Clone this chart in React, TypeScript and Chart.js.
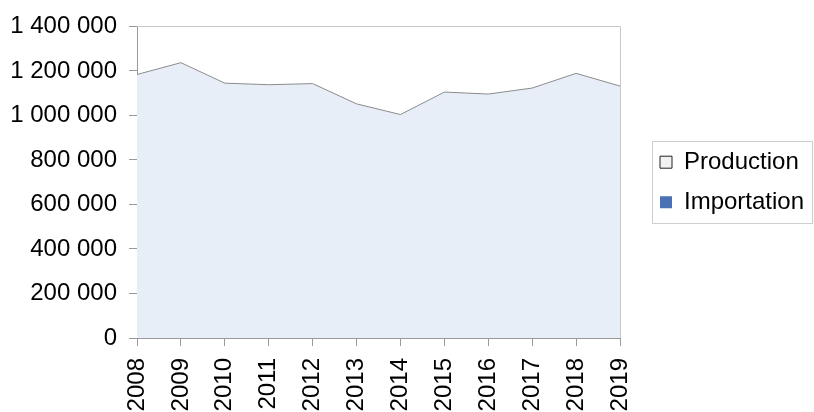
import React, { useEffect, useRef } from "react";
import { Chart, registerables } from "chart.js";

Chart.register(...registerables);

const years = ["2008", "2009", "2010", "2011", "2012", "2013", "2014", "2015", "2016", "2017", "2018", "2019"];
const production = [1184000, 1237000, 1145000, 1138000, 1143000, 1052000, 1004000, 1105000, 1096000, 1123000, 1189000, 1132000];
const importation = [0, 0, 0, 0, 0, 0, 0, 0, 0, 0, 0, 0];
const yTicks = [0, 200000, 400000, 600000, 800000, 1000000, 1200000, 1400000];

const FONT = "'Liberation Sans', Arial, sans-serif";

const fmt = (v: number) => String(v).replace(/\B(?=(\d{3})+(?!\d))/g, " ");

const framePlugin = {
  id: "frame",
  afterDatasetsDraw(chart: any) {
    const { ctx, chartArea } = chart;
    ctx.save();
    ctx.strokeStyle = "#c8c8c8";
    ctx.lineWidth = 1;
    ctx.beginPath();
    ctx.moveTo(chartArea.left, Math.round(chartArea.top) + 0.5);
    ctx.lineTo(Math.round(chartArea.right) + 0.5, Math.round(chartArea.top) + 0.5);
    ctx.lineTo(Math.round(chartArea.right) + 0.5, chartArea.bottom);
    ctx.stroke();
    ctx.restore();
  },
  afterDraw(chart: any) {
    const lg = chart.legend;
    if (!lg || !lg.legendHitBoxes || lg.legendHitBoxes.length === 0) return;
    const boxes = lg.legendHitBoxes;
    const first = boxes[0];
    const last = boxes[boxes.length - 1];
    const { ctx } = chart;
    ctx.save();
    ctx.strokeStyle = "#cfcfcf";
    ctx.lineWidth = 1;
    const x0 = Math.round(lg.left + 8) + 0.5;
    const x1 = Math.round(lg.right - 2) + 0.5;
    const y0 = Math.round(first.top - 9) + 0.5;
    const y1 = Math.round(last.top + last.height + 9) + 0.5;
    ctx.strokeRect(x0, y0, x1 - x0, y1 - y0);
    ctx.restore();
  },
};

export default function App() {
  const ref = useRef<HTMLCanvasElement | null>(null);
  useEffect(() => {
    document.body.style.margin = "0";
    const canvas = ref.current;
    if (!canvas) return;
    const chart = new Chart(canvas, {
      type: "line",
      data: {
        labels: years,
        datasets: [
          {
            label: "Production",
            data: production,
            fill: "origin",
            backgroundColor: "#e8eef8",
            borderColor: "#8c8c8c",
            borderWidth: 1,
            pointRadius: 0,
            tension: 0,
          },
          {
            label: "Importation",
            data: importation,
            fill: "origin",
            backgroundColor: "#4a70b5",
            borderColor: "#4a70b5",
            borderWidth: 0,
            pointRadius: 0,
            tension: 0,
          },
        ],
      },
      options: {
        responsive: false,
        animation: false,
        layout: { padding: { top: 19, left: 0, right: 0, bottom: 0 } },
        plugins: {
          tooltip: { enabled: false },
          legend: {
            position: "right",
            align: "center",
            fullSize: false,
            maxWidth: 170,
            labels: {
              font: { family: FONT, size: 24 },
              color: "#000",
              boxWidth: 12,
              boxHeight: 12,
              padding: 16,
              generateLabels: (ch: any) =>
                ch.data.datasets.map((ds: any, i: number) => ({
                  text: ds.label,
                  fillStyle: i === 0 ? "#f2f2f2" : "#4a70b5",
                  strokeStyle: i === 0 ? "#222" : "#4a70b5",
                  lineWidth: i === 0 ? 1 : 0,
                  fontColor: "#000",
                  hidden: false,
                  datasetIndex: i,
                })),
            },
          },
        },
        scales: {
          x: {
            type: "category",
            offset: false,
            grid: { display: true, drawOnChartArea: false, drawTicks: true, tickLength: 8, color: "#9a9a9a" },
            border: { display: true, color: "#9a9a9a" },
            ticks: {
              font: { family: FONT, size: 24 },
              color: "#000",
              minRotation: 90,
              maxRotation: 90,
              padding: 12,
              autoSkip: false,
            },
            afterFit: (s: any) => {
              s.height = 74;
            },
          },
          y: {
            min: 0,
            max: 1400000,
            afterBuildTicks: (s: any) => {
              s.ticks = yTicks.map((v) => ({ value: v }));
            },
            grid: { display: true, drawOnChartArea: false, drawTicks: true, tickLength: 8, color: "#9a9a9a" },
            border: { display: true, color: "#9a9a9a" },
            ticks: {
              font: { family: FONT, size: 24 },
              color: "#000",
              padding: 12,
              callback: (v: any) => fmt(Number(v)),
            },
            afterFit: (s: any) => {
              s.width = 137;
            },
          },
          yRight: {
            type: "linear",
            position: "right",
            display: true,
            min: 0,
            max: 1,
            grid: { display: false, drawTicks: false },
            border: { display: false },
            ticks: { display: false },
            afterFit: (s: any) => {
              s.width = 24;
            },
          },
        },
      },
      plugins: [framePlugin],
    });
    return () => chart.destroy();
  }, []);
  return (
    <div style={{ width: 814, height: 412, background: "#fff" }}>
      <canvas ref={ref} width={814} height={412} style={{ display: "block" }} />
    </div>
  );
}
